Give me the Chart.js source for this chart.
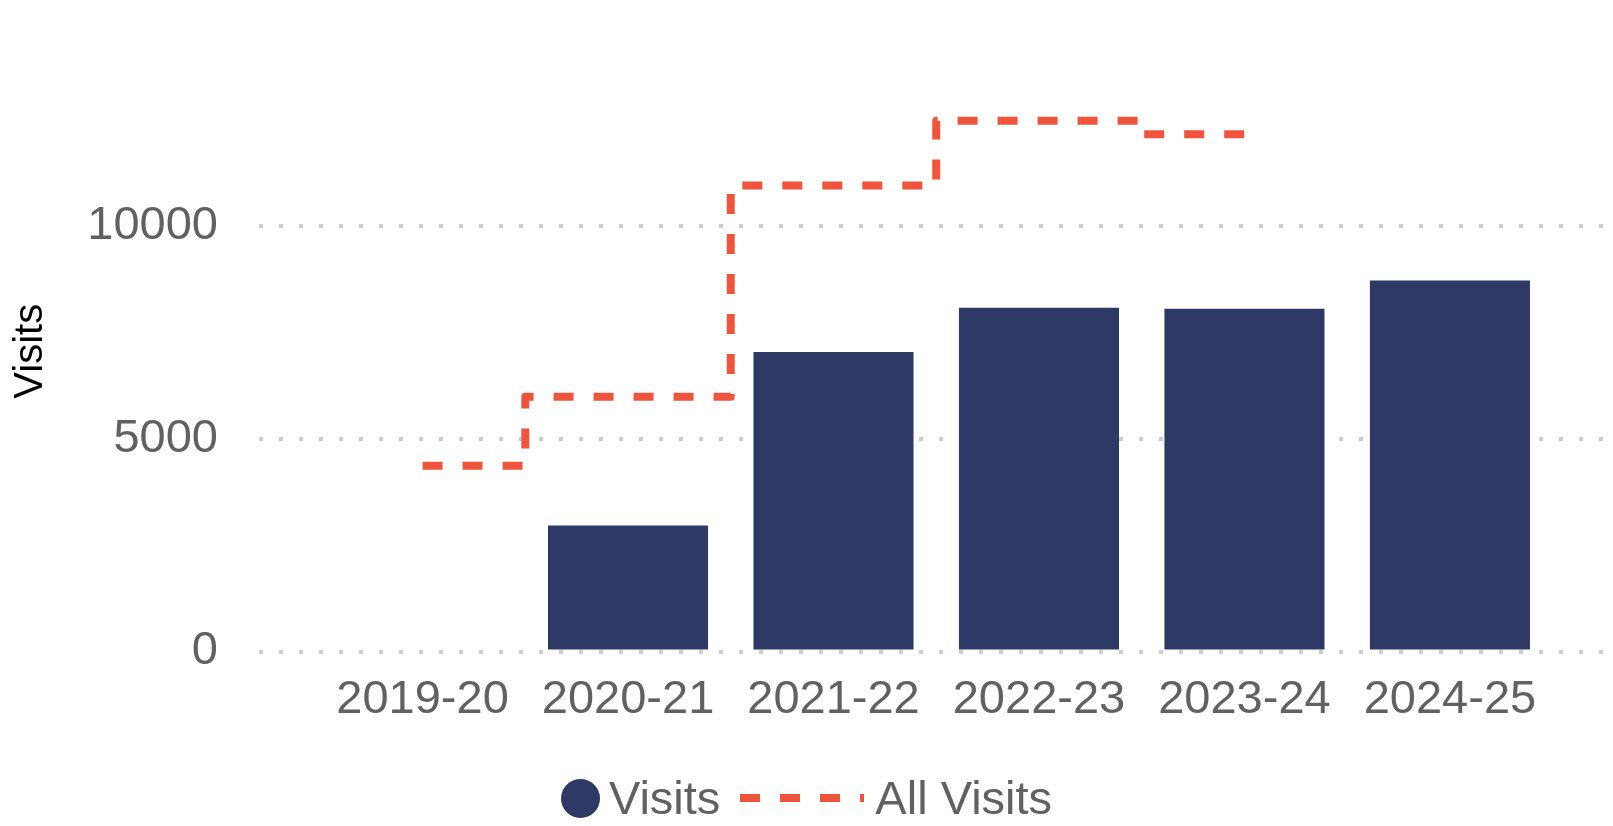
<!DOCTYPE html>
<html>
<head>
<meta charset="utf-8">
<title>Visits</title>
<script src="https://cdn.jsdelivr.net/npm/chart.js@4.4.1/dist/chart.umd.min.js"></script>
<style>
  body { margin: 0; background: #fff; font-family: "Liberation Sans", Arial, sans-serif; }
  #wrap { position: relative; width: 1613px; height: 826px; }
  #legend {
    position: absolute; left: 0; top: 774px; width: 1613px; height: 48px;
    display: flex; justify-content: center; align-items: center;
    font-size: 47px; line-height: 48px; color: #616161;
  }
  #legend .dot { width: 39px; height: 39px; border-radius: 50%; margin-right: 9px; }
  #legend svg { margin: 0 11px 0 20px; }
</style>
</head>
<body>
<div id="wrap">
  <canvas id="chart" width="1613" height="826"></canvas>
  <div id="legend"></div>
</div>
<script>
// Data
const years = ["2019-20", "2020-21", "2021-22", "2022-23", "2023-24", "2024-25"];
const visits = [null, 2960, 7030, 8070, 8050, 8710];
const all_visits = [4360, 5980, 10940, 12460, 12145];
const y_ticks = [0, 5000, 10000];

const bar_colour = "#2e3966";
const line_colour = "#f0543c";
const text_colour = "#616161";

Chart.defaults.font.family = '"Liberation Sans", Arial, sans-serif';

const ctx = document.getElementById("chart").getContext("2d");

const data = {
    datasets: [{
        type: "bar",
        label: "Visits",
        data: visits.map((v, i) => ({x: i, y: v})),
        backgroundColor: bar_colour,
        categoryPercentage: 1,
        barPercentage: 0.779,
        order: 2
    }, {
        type: "line",
        label: "All Visits",
        data: all_visits.map((v, i) => ({x: i, y: v})),
        borderColor: line_colour,
        borderWidth: 8,
        borderDash: [20, 20],
        borderJoinStyle: "round",
        stepped: "middle",
        pointRadius: 0,
        fill: false,
        order: 1
    }]
};

const config = {
    type: "bar",
    data: data,
    options: {
        responsive: false,
        animation: false,
        layout: {
            padding: {top: 51, right: 10, bottom: 99, left: 0}
        },
        scales: {
            // linear x so the grid can run past the first and last year like the reference
            x: {
                type: "linear",
                offset: false,
                min: -0.796,
                max: 5.745,
                grid: {display: false, drawTicks: false},
                border: {display: false},
                afterBuildTicks: (axis) => {
                    axis.ticks = years.map((_, i) => ({value: i}));
                },
                afterFit: (axis) => {
                    axis.height = 75.5;
                    axis.paddingLeft = 0;
                    axis.paddingRight = 0;
                },
                ticks: {
                    callback: (value) => years[value],
                    autoSkip: false,
                    maxRotation: 0,
                    padding: 20,
                    color: text_colour,
                    font: {size: 47}
                }
            },
            y: {
                min: 0,
                max: 14100,
                afterBuildTicks: (axis) => {
                    axis.ticks = y_ticks.map((v) => ({value: v}));
                },
                afterFit: (axis) => {
                    axis.width = 259;
                    axis.paddingTop = 0;
                    axis.paddingBottom = 0;
                },
                grid: {color: "#cccccc", lineWidth: 4, drawTicks: false},
                border: {display: false, dash: [4, 16]},
                ticks: {
                    callback: (value) => String(value),
                    padding: 41,
                    color: text_colour,
                    font: {size: 47}
                },
                title: {
                    display: true,
                    text: "Visits",
                    color: "#000",
                    font: {size: 40},
                    padding: {top: 7, bottom: 35}
                }
            }
        },
        plugins: {
            legend: {display: false},
            tooltip: {enabled: false}
        }
    }
};

const chart = new Chart(ctx, config);

// Legend drawn in HTML so the circle and the dashed line can have their own sizes
const legend = document.getElementById("legend");
legend.innerHTML =
    '<span class="dot" style="background:' + bar_colour + '"></span>' +
    '<span>' + data.datasets[0].label + '</span>' +
    '<svg width="124" height="10"><line x1="0" y1="5" x2="124" y2="5" stroke="' + line_colour +
    '" stroke-width="8" stroke-dasharray="20 20"/></svg>' +
    '<span>' + data.datasets[1].label + '</span>';
</script>
</body>
</html>
